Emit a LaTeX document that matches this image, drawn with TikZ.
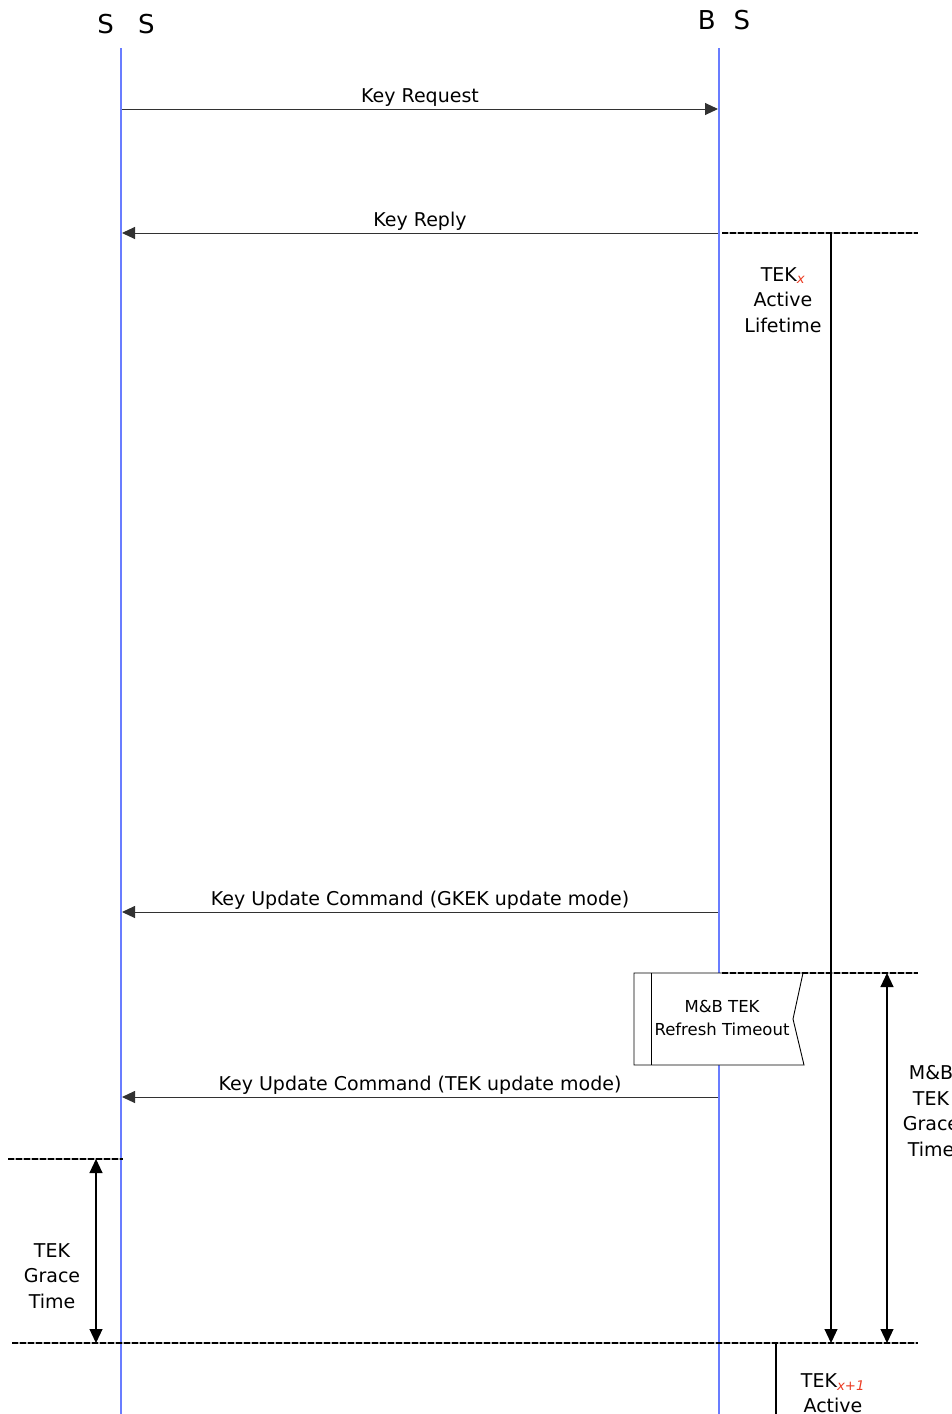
\documentclass[tikz,border=0pt]{standalone}
\usepackage{fontspec}
\setmainfont{DejaVu Sans}
\usetikzlibrary{arrows.meta, positioning}
\definecolor{lifeblue}{RGB}{105,125,255}
\definecolor{msggray}{RGB}{50,50,50}
\definecolor{subred}{RGB}{235,60,35}
\tikzset{
header/.style = {font = \fontsize{26}{30}\selectfont, inner sep = 0pt},
lifeline/.style = {draw = lifeblue, line width = 1.5pt},
message/.style = {draw = msggray, line width = 1pt, -{Triangle[length = 13pt, width = 12pt]}},
msg label/.style = {font = \fontsize{19}{22}\selectfont, inner sep = 0pt, above = 2pt},
timeline/.style = {draw = black, line width = 2.5pt, dash pattern = on 6pt off 2pt, preaction = {draw = gray!60, line width = 1.2pt, solid}},
span/.style = {draw = black, line width = 1.1pt, > = {Triangle[length = 14pt, width = 13pt]}},
span label/.style = {font = \fontsize{19}{25.5}\selectfont, align = center, inner sep = 0pt},
timer/.style = {draw = black, line width = 0.9pt, fill = white},
timer label/.style = {font = \fontsize{16.5}{23}\selectfont, align = center, inner sep = 0pt},
}
\newcommand{\tekidx}[1]{\textsubscript{\textcolor{subred}{\itshape #1}}}

\begin{document}
\begin{tikzpicture}[x = 1pt, y = -1pt]
    \useasboundingbox (0, 0) rectangle (952, 1414);
    % lifelines
    \node[header] (ss name) at (126, 24) {S\hspace{24pt}S};
    \node[header] (bs name) at (724, 20) {B\hspace{18pt}S};
    \coordinate (ss top) at (121, 48);
    \coordinate (ss bot) at (121, 1414);
    \coordinate (bs top) at (719, 48);
    \coordinate (bs bot) at (719, 1414);
    \draw[lifeline] (ss top) -- (ss bot);
    \draw[lifeline] (bs top) -- (bs bot);
    % messages
    \coordinate (ss req) at (122, 109);
    \coordinate (bs req) at (718, 109);
    \coordinate (ss rep) at (122, 233);
    \coordinate (bs rep) at (718, 233);
    \coordinate (ss gkek) at (122, 912);
    \coordinate (bs gkek) at (718, 912);
    \coordinate (ss tek) at (122, 1097);
    \coordinate (bs tek) at (718, 1097);
    \draw[message] (ss req) -- node[msg label] (req label) {Key Request} (bs req);
    \draw[message] (bs rep) -- node[msg label] (rep label) {Key Reply} (ss rep);
    \draw[message] (bs gkek) -- node[msg label] (gkek label) {Key Update Command (GKEK update mode)} (ss gkek);
    \draw[message] (bs tek) -- node[msg label] (tek label) {Key Update Command (TEK update mode)} (ss tek);
    % refresh timer
    \coordinate (timer nw) at (634, 973);
    \coordinate (timer ne) at (803, 973);
    \coordinate (timer notch) at (793, 1019);
    \coordinate (timer se) at (804, 1065);
    \coordinate (timer sw) at (634, 1065);
    \draw[timer] (timer nw) -- (timer ne) -- (timer notch) -- (timer se) -- (timer sw) -- cycle;
    \draw[timer] (651, 973) -- (651, 1065);
    \node[timer label] (timer text) at (722, 1018) {M\&B TEK\\Refresh Timeout};
    % key lifetime marks
    \coordinate (mark a west) at (722, 233);
    \coordinate (mark a east) at (918, 233);
    \coordinate (mark b west) at (722, 973);
    \coordinate (mark b east) at (918, 973);
    \coordinate (mark c west) at (8, 1159);
    \coordinate (mark c east) at (123, 1159);
    \coordinate (mark d west) at (12, 1343);
    \coordinate (mark d east) at (918, 1343);
    \draw[timeline] (mark a west) -- (mark a east);
    \draw[timeline] (mark b west) -- (mark b east);
    \draw[timeline] (mark c west) -- (mark c east);
    \draw[timeline] (mark d west) -- (mark d east);
    % spans
    \draw[span, ->] (831, 233) -- (831, 1343);
    \draw[span, <->] (887, 973) -- (887, 1343);
    \draw[span, <->] (96, 1159) -- (96, 1343);
    \draw[span] (776, 1343) -- (776, 1414);
    \node[span label] (tekx label) at (783, 300) {TEK\tekidx{x}\\Active\\Lifetime};
    \node[span label] (mb grace label) at (931, 1111) {M\&B\\TEK\\Grace\\Time};
    \node[span label] (grace label) at (52, 1276) {TEK\\Grace\\Time};
    \node[span label] (teknext label) at (833, 1393) {TEK\tekidx{x+1}\\Active};
\end{tikzpicture}
\end{document}
